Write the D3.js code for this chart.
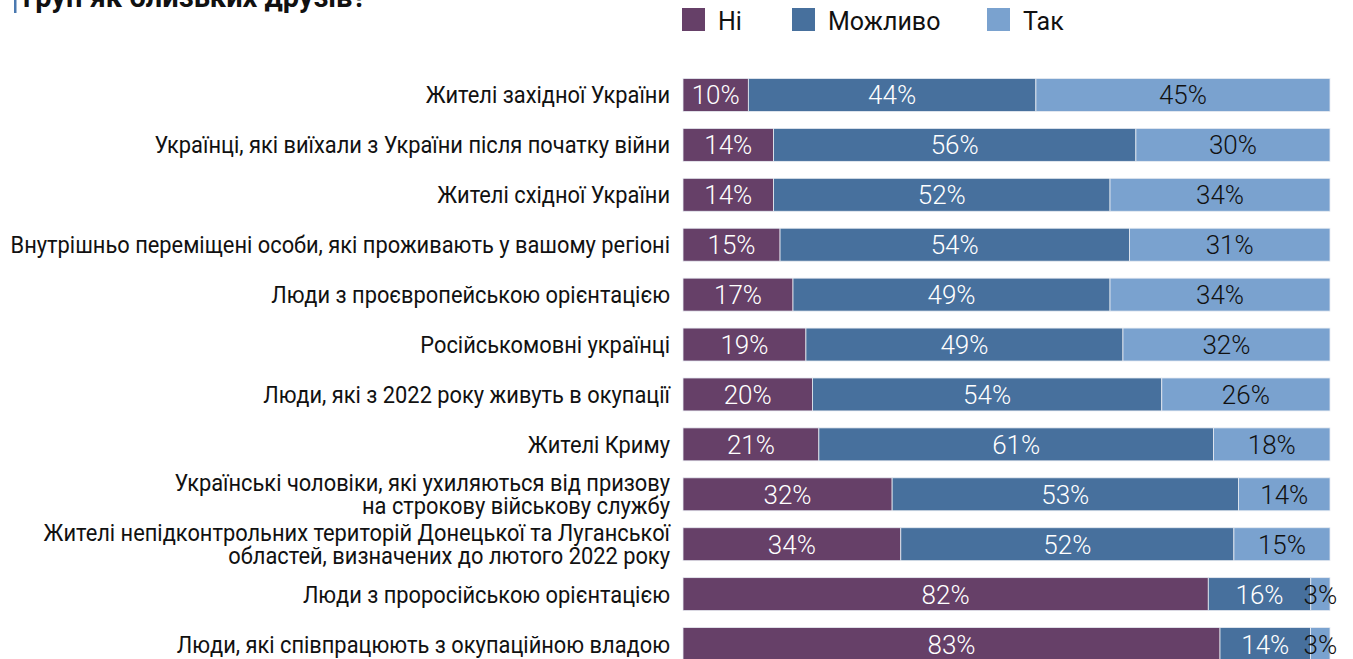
<!DOCTYPE html>
<html>
<head>
<meta charset="utf-8">
<script src="https://cdn.jsdelivr.net/npm/d3@7"></script>
<style>
  body { margin: 0; background: #fff; }
  svg { display: block; font-family: Roboto, "Noto Sans", sans-serif; }
</style>
</head>
<body>
<script>
// категорії (рядки), зверху вниз
const categories = [
    ['Жителі західної України'],
    ['Українці, які виїхали з України після початку війни'],
    ['Жителі східної України'],
    ['Внутрішньо переміщені особи, які проживають у вашому регіоні'],
    ['Люди з проєвропейською орієнтацією'],
    ['Російськомовні українці'],
    ['Люди, які з 2022 року живуть в окупації'],
    ['Жителі Криму'],
    ['Українські чоловіки, які ухиляються від призову', 'на строкову військову службу'],
    ['Жителі непідконтрольних територій Донецької та Луганської', 'областей, визначених до лютого 2022 року'],
    ['Люди з проросійською орієнтацією'],
    ['Люди, які співпрацюють з окупаційною владою']
];
const series = ['Ні', 'Можливо', 'Так'];
const ni = [10, 14, 14, 15, 17, 19, 20, 21, 32, 34, 82, 83];
const mozhlyvo = [44, 56, 52, 54, 49, 49, 54, 61, 53, 52, 16, 14];
const tak = [45, 30, 34, 31, 34, 32, 26, 18, 14, 15, 3, 3];
const colors = ['#664068', '#47709d', '#7aa2cf'];
const labelColors = ['#fff', '#fff', '#111'];

const width = 1353, height = 659;
const barLeft = 683, barRight = 1330;

const svg = d3.select('body').append('svg')
    .attr('width', width)
    .attr('height', height);

// заголовок (обрізаний зверху, як в оригіналі)
svg.append('rect').attr('x', 14).attr('y', 0).attr('width', 2.5).attr('height', 13).attr('fill', '#4a79b0');
svg.append('text')
    .attr('x', 23).attr('y', 7)
    .attr('font-size', 29).attr('font-weight', 700).attr('fill', '#111')
    .text('груп як близьких друзів?');

// легенда
const legendX = [682, 792, 987];
const legend = svg.append('g');
series.forEach((s, i) => {
    legend.append('rect')
        .attr('x', legendX[i]).attr('y', 8)
        .attr('width', 23).attr('height', 23)
        .attr('fill', colors[i]);
    legend.append('text')
        .attr('x', legendX[i] + 36).attr('y', 30)
        .attr('font-size', 25).attr('fill', '#111')
        .text(s);
});

const y = d3.scaleBand()
    .domain(d3.range(categories.length))
    .range([70, 669])
    .paddingInner(0.34)
    .paddingOuter(0.17);

const x = d3.scaleLinear().domain([0, 100]).range([barLeft, barRight]);

const rows = categories.map((c, i) => {
    const vals = [ni[i], mozhlyvo[i], tak[i]];
    const total = d3.sum(vals);
    let cum = 0;
    return vals.map((v, k) => {
        const seg = { row: i, k: k, v: v, x0: cum / total * 100, x1: (cum + v) / total * 100 };
        cum += v;
        return seg;
    });
});

const bars = svg.append('g');
bars.selectAll('g').data(rows).enter().append('g')
    .selectAll('rect').data(d => d).enter().append('rect')
    .attr('x', d => x(d.x0))
    .attr('y', d => y(d.row))
    .attr('width', d => x(d.x1) - x(d.x0))
    .attr('height', y.bandwidth())
    .attr('fill', d => colors[d.k])
    .attr('stroke', '#e8ecf2')
    .attr('stroke-width', 0.8);

bars.selectAll('text.val').data(rows.flat()).enter().append('text')
    .attr('class', 'val')
    .attr('x', d => (x(d.x0) + x(d.x1)) / 2)
    .attr('y', d => y(d.row) + y.bandwidth() / 2 + 9.5)
    .attr('text-anchor', 'middle')
    .attr('font-size', 26)
    .attr('font-weight', 300)
    .attr('fill', d => labelColors[d.k])
    .text(d => d.v + '%');

// підписи категорій (вузький шрифт імітуємо стисканням)
const labels = svg.append('g').attr('transform', 'translate(670,0) scale(0.91,1)');
categories.forEach((lines, i) => {
    const cy = y(i) + y.bandwidth() / 2;
    const t = labels.append('text')
        .attr('text-anchor', 'end')
        .attr('font-size', 24)
        .attr('fill', '#111');
    lines.forEach((ln, j) => {
        t.append('tspan')
            .attr('x', 0)
            .attr('y', cy + 8.5 + (j - (lines.length - 1) / 2) * 23)
            .text(ln);
    });
});
</script>
</body>
</html>
